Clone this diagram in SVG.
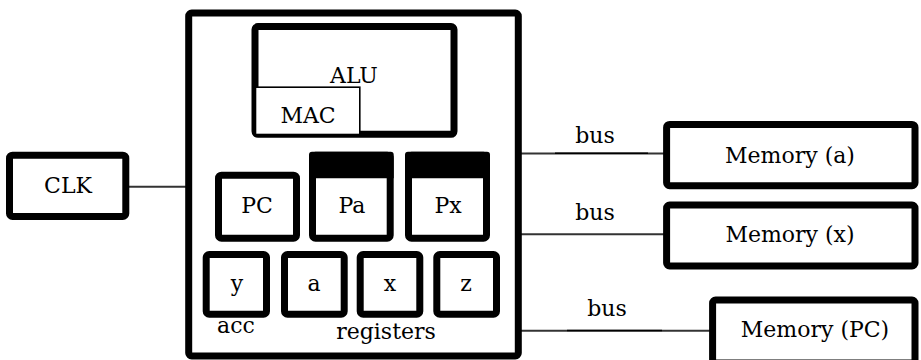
<svg xmlns="http://www.w3.org/2000/svg" width="921" height="360" viewBox="0 0 921 360">
  <style>
    .box { fill: #fff; stroke: #000; stroke-width: 7; }
    .thin { fill: #fff; stroke: #000; stroke-width: 1.6; }
    .hdr { fill: #000; stroke: none; }
    .wire { stroke: #333; stroke-width: 2; fill: none; }
    .wire-mid { stroke: #000; stroke-width: 1.6; fill: none; }
    text { font-family: "DejaVu Serif", "Liberation Serif", serif; font-size: 22px; fill: #000; text-anchor: middle; }
  </style>

  <!-- connectors -->
  <g id="connectors">
    <line class="wire" x1="128" y1="186.7" x2="186" y2="186.7"/>
    <line class="wire" x1="521" y1="153.5" x2="664" y2="153.5"/>
    <line class="wire-mid" x1="555" y1="153.2" x2="648" y2="153.2"/>
    <line class="wire" x1="521" y1="234.3" x2="664" y2="234.3"/>
    <line class="wire" x1="521" y1="330.7" x2="711" y2="330.7"/>
    <line class="wire-mid" x1="567" y1="330.5" x2="662" y2="330.5"/>
  </g>

  <!-- processor block -->
  <g id="cpu">
    <rect class="box" x="188.7" y="13" width="329.6" height="343" rx="3"/>
    <text x="236" y="333">acc</text>
    <text x="386" y="339">registers</text>
  </g>

  <g id="alu">
    <rect class="box" x="255" y="26.6" width="199" height="107.7" rx="3" stroke-width="6.5"/>
    <text x="354" y="83">ALU</text>
  </g>

  <g id="mac">
    <rect class="thin" x="255.5" y="87.2" width="104.3" height="47.3"/>
    <text x="308" y="123">MAC</text>
  </g>

  <g id="pc">
    <rect class="box" x="218.5" y="175.2" width="78" height="63" rx="3"/>
    <text x="257" y="213">PC</text>
  </g>

  <g id="pa">
    <rect class="box" x="312.5" y="155.2" width="77.7" height="83" rx="3"/>
    <path class="hdr" d="M309 178.3 V154.7 Q309 151.7 312 151.7 H390.7 Q393.7 151.7 393.7 154.7 V178.3 Z"/>
    <text x="352" y="213">Pa</text>
  </g>

  <g id="px">
    <rect class="box" x="408.5" y="155.2" width="78" height="83" rx="3"/>
    <path class="hdr" d="M405 178.3 V154.7 Q405 151.7 408 151.7 H487 Q490 151.7 490 154.7 V178.3 Z"/>
    <text x="448" y="213">Px</text>
  </g>

  <g id="reg-y">
    <rect class="box" x="206.2" y="254.5" width="60.3" height="59.7" rx="3"/>
    <text x="237" y="291">y</text>
  </g>
  <g id="reg-a">
    <rect class="box" x="284.5" y="254.5" width="59.7" height="59.7" rx="3"/>
    <text x="314" y="291">a</text>
  </g>
  <g id="reg-x">
    <rect class="box" x="360.2" y="254.5" width="59.6" height="59.7" rx="3"/>
    <text x="390" y="291">x</text>
  </g>
  <g id="reg-z">
    <rect class="box" x="436.8" y="254.5" width="59.7" height="59.7" rx="3"/>
    <text x="466" y="291">z</text>
  </g>

  <!-- clock -->
  <g id="clk">
    <rect class="box" x="9.5" y="155.2" width="116.3" height="61.3" rx="3"/>
    <text x="68" y="193">CLK</text>
  </g>

  <!-- bus labels -->
  <g id="bus-labels">
    <text x="595" y="143">bus</text>
    <text x="595" y="220">bus</text>
    <text x="607" y="316">bus</text>
  </g>

  <!-- memories -->
  <g id="mem-a">
    <rect class="box" x="666.6" y="124.4" width="248.4" height="61.3" rx="3" stroke-width="6.7"/>
    <text x="790" y="163">Memory (a)</text>
  </g>
  <g id="mem-x">
    <rect class="box" x="666.6" y="205" width="248.4" height="61" rx="3" stroke-width="6.7"/>
    <text x="790" y="242">Memory (x)</text>
  </g>
  <g id="mem-pc">
    <rect class="box" x="712.6" y="300" width="202.4" height="63" rx="3" stroke-width="6.7"/>
    <text x="815" y="337">Memory (PC)</text>
  </g>
</svg>
